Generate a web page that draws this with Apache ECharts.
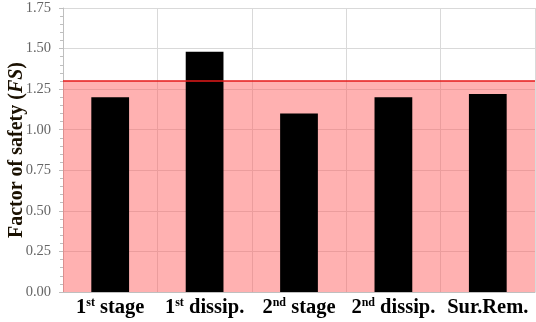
<!DOCTYPE html>
<html><head><meta charset="utf-8">
<script src="https://cdn.jsdelivr.net/npm/echarts@6/dist/echarts.min.js"></script>
<style>html,body{margin:0;padding:0;background:#fff}#c{width:536px;height:322px}</style>
</head><body><div id="c"></div>
<script>
const categories = ['1st stage', '1st dissip.', '2nd stage', '2nd dissip.', 'Sur.Rem.'];
const fsValues = [1.20, 1.48, 1.10, 1.20, 1.22];
const fsThreshold = 1.30;
const yTicks = [0, 0.25, 0.5, 0.75, 1.0, 1.25, 1.5, 1.75];

const serif = '"Liberation Serif","Times New Roman",serif';
const chart = echarts.init(document.getElementById('c'));
chart.setOption({
  animation: false,
  grid: {left: 63, right: 1, top: 8, bottom: 30, outerBoundsMode: 'none', containLabel: false},
  xAxis: {
    type: 'category', data: categories,
    axisLine: {lineStyle: {color: '#bfbfbf'}},
    axisTick: {alignWithLabel: true, interval: 0, length: 4, lineStyle: {color: '#bfbfbf'}},
    splitLine: {show: true, interval: 0, lineStyle: {color: '#d9d9d9', width: 1}},
    axisLabel: {
      interval: 0, margin: 5,
      formatter: v => { const m = v.match(/^(\d)(st|nd)(.*)$/); return m ? '{b|' + m[1] + '}{s|' + m[2] + '}{b|' + m[3] + '}' : '{b|' + v + '}'; },
      rich: {
        b: {fontFamily: serif, fontWeight: 'bold', fontSize: 20.5, color: '#000'},
        s: {fontFamily: serif, fontWeight: 'bold', fontSize: 12, color: '#000', verticalAlign: 'top', padding: [0, 0, 10, 0]}
      }
    }
  },
  yAxis: {
    type: 'value', min: yTicks[0], max: yTicks[yTicks.length - 1], interval: 0.25,
    name: '{t|Factor of safety (}{i|FS}{t|)}', nameLocation: 'middle', nameGap: 36, nameMoveOverlap: false,
    nameTextStyle: {rich: {
      t: {fontFamily: serif, fontWeight: 'bold', fontSize: 20, color: '#1a1000'},
      i: {fontFamily: serif, fontWeight: 'bold', fontStyle: 'italic', fontSize: 20, color: '#1a1000'}
    }},
    axisLine: {show: true, lineStyle: {color: '#bfbfbf'}},
    axisTick: {show: true, length: 4, lineStyle: {color: '#bfbfbf'}},
    minorTick: {show: true, splitNumber: 5, length: 3, lineStyle: {color: '#bfbfbf'}},
    splitLine: {show: true, lineStyle: {color: '#d9d9d9'}},
    axisLabel: {fontFamily: serif, fontSize: 14.5, color: '#666', margin: 12, formatter: v => v.toFixed(2)}
  },
  series: [{
    type: 'bar', data: fsValues, barWidth: '40%',
    itemStyle: {color: '#000'},
    markArea: {silent: true, itemStyle: {color: 'rgba(255,90,90,0.47)'}, data: [[{yAxis: 0}, {yAxis: fsThreshold}]]},
    markLine: {silent: true, symbol: 'none', label: {show: false}, lineStyle: {color: '#e41a1a', type: 'solid', width: 1.5}, data: [{yAxis: fsThreshold}]}
  }]
});
</script></body></html>
